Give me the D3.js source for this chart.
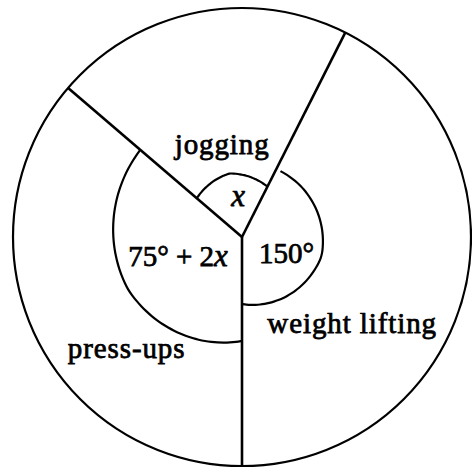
<!DOCTYPE html>
<html>
<head>
<meta charset="utf-8">
<script src="https://cdn.jsdelivr.net/npm/d3@7"></script>
<style>
  html, body { margin: 0; padding: 0; background: #fff; }
  svg text { font-family: "Liberation Serif", "DejaVu Serif", serif; fill: #000; }
</style>
</head>
<body>
<script>
// Sectors of the pie (figure is not drawn to scale, so these are the angles as drawn)
const categories  = ["jogging", "weight lifting", "press-ups"];
const angleLabels = ["x", "150°", "75° + 2x"];
const drawnAngles = [76.2, 153.2, 130.6];   // degrees
const firstEdge   = -49.4;                  // degrees clockwise from 12 o'clock

// layout
const width = 472, height = 468;
const cx = 242, cy = 237, R = 229;
const rad = d => d * Math.PI / 180;

// polar spots for the labels: [angle deg, radius]
const namePos  = [[-13.5, 85], [131, 146], [223.7, 167]];
const anglePos = [[-7.4, 31], [120.3, 51.5], [245.6, 70.3]];
// angle marks: radius at start / middle / end of the sector, and trim at the start
const markRadius = [[59.5, 64.8, 56.4], [76, 81.9, 67], [104, 125.5, 134]];
const markTrim   = [0, 3.5, 0];

const svg = d3.select("body").append("svg")
    .attr("width", width)
    .attr("height", height);

const g = svg.append("g").attr("transform", "translate(" + cx + "," + cy + ")");

const pie = d3.pie()
    .sort(null)
    .value(d => d)
    .startAngle(rad(firstEdge))
    .endAngle(rad(firstEdge) + 2 * Math.PI);

const arcs = pie(drawnAngles);

// outer circle
g.append("circle")
    .attr("r", R)
    .attr("fill", "none")
    .attr("stroke", "#000")
    .attr("stroke-width", 2.2);

// sector edges
g.selectAll("line.edge")
    .data(arcs)
    .enter()
    .append("line")
    .attr("class", "edge")
    .attr("x1", 0).attr("y1", 0)
    .attr("x2", d => R * Math.sin(d.startAngle))
    .attr("y2", d => -R * Math.cos(d.startAngle))
    .attr("stroke", "#000")
    .attr("stroke-width", 2.6);

// angle marks, drawn a bit freehand like the original
const markLine = d3.lineRadial()
    .angle(d => d[0])
    .radius(d => d[1])
    .curve(d3.curveBasis);

g.selectAll("path.mark")
    .data(arcs)
    .enter()
    .append("path")
    .attr("class", "mark")
    .attr("d", (d, i) => {
        const a0 = d.startAngle + rad(markTrim[i]);
        const a1 = d.endAngle;
        const r = d3.scaleLinear()
            .domain([d.startAngle, (d.startAngle + d.endAngle) / 2, d.endAngle])
            .range(markRadius[i]);
        const pts = d3.range(0, 41).map(k => {
            const a = a0 + (a1 - a0) * k / 40;
            return [a, r(a)];
        });
        return markLine(pts);
    })
    .attr("fill", "none")
    .attr("stroke", "#000")
    .attr("stroke-width", 2.2);

const polar = p => [p[1] * Math.sin(rad(p[0])), -p[1] * Math.cos(rad(p[0]))];

// sector names
g.selectAll("text.name")
    .data(categories)
    .enter()
    .append("text")
    .attr("class", "name")
    .attr("x", (d, i) => polar(namePos[i])[0])
    .attr("y", (d, i) => polar(namePos[i])[1])
    .attr("text-anchor", "middle")
    .attr("font-size", 29)
    .attr("letter-spacing", 0.9)
    .style("stroke", "#000")
    .style("stroke-width", 0.75)
    .text(d => d);

// angle labels: italic x, degree sign as written
const al = g.selectAll("text.angle")
    .data(angleLabels)
    .enter()
    .append("text")
    .attr("class", "angle")
    .attr("x", (d, i) => polar(anglePos[i])[0])
    .attr("y", (d, i) => polar(anglePos[i])[1])
    .attr("text-anchor", "middle")
    .attr("font-size", 29)
    .style("stroke", "#000")
    .style("stroke-width", 0.75);

al.each(function(d) {
    const t = d3.select(this);
    d.split(/(x)/).filter(s => s.length).forEach(s => {
        t.append("tspan")
            .attr("font-style", s === "x" ? "italic" : "normal")
            .attr("font-size", s === "x" ? 31 : null)
            .text(s);
    });
});
</script>
</body>
</html>
